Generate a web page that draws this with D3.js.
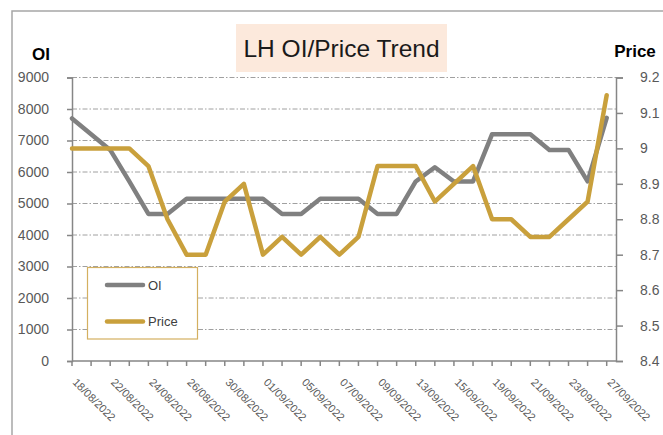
<!DOCTYPE html>
<html><head><meta charset="utf-8">
<script src="https://cdn.jsdelivr.net/npm/d3@7"></script>
<style>body{margin:0;background:#fff}svg{display:block;font-family:"Liberation Sans",Arial,sans-serif}</style>
</head><body><svg id="c" width="663" height="435"></svg>
<script>
const dates = ["18/08/2022","19/08/2022","22/08/2022","23/08/2022","24/08/2022","25/08/2022","26/08/2022","29/08/2022","30/08/2022","31/08/2022","01/09/2022","02/09/2022","05/09/2022","06/09/2022","07/09/2022","08/09/2022","09/09/2022","12/09/2022","13/09/2022","14/09/2022","15/09/2022","16/09/2022","19/09/2022","20/09/2022","21/09/2022","22/09/2022","23/09/2022","26/09/2022","27/09/2022"];
const oi = [7700,7200,6700,5700,4670,4670,5150,5150,5150,5150,5150,4670,4670,5150,5150,5150,4670,4670,5700,6150,5700,5700,7200,7200,7200,6700,6700,5700,7720];
const price = [9.0,9.0,9.0,9.0,8.95,8.8,8.7,8.7,8.85,8.9,8.7,8.75,8.7,8.75,8.7,8.75,8.95,8.95,8.95,8.85,8.9,8.95,8.8,8.8,8.75,8.75,8.8,8.85,9.15];
const oiTicks = [0,1000,2000,3000,4000,5000,6000,7000,8000,9000];
const priceTicks = [8.4,8.5,8.6,8.7,8.8,8.9,9.0,9.1,9.2];
const title = "LH OI/Price Trend";
const series = [{name:"OI", values:oi, color:"#808080", axis:"left"},{name:"Price", values:price, color:"#C9A03C", axis:"right"}];

const svg = d3.select("#c");
const L = 72, R = 616, T = 77.5, B = 361, lastX = 606.7;
const x = d3.scalePoint().domain(dates).range([L, lastX]);
const yL = d3.scaleLinear().domain([0,9000]).range([B, T]);
const yR = d3.scaleLinear().domain([8.4,9.2]).range([B, T]);

// outer border
svg.append("rect").attr("x",12).attr("y",11).attr("width",700).attr("height",480)
  .attr("fill","none").attr("stroke","#a6a6a6").attr("stroke-width",1.5);

// gridlines
svg.append("g").selectAll("line").data(oiTicks.filter(d=>d>0)).join("line")
  .attr("x1",L).attr("x2",R).attr("y1",d=>yL(d)).attr("y2",d=>yL(d))
  .attr("stroke","#a0a0a0").attr("stroke-width",1).attr("stroke-dasharray","5,2,1.5,2");

// title
svg.append("rect").attr("x",236).attr("y",24).attr("width",211).attr("height",48).attr("fill","#FCE9DC");
svg.append("text").attr("x",341.5).attr("y",56.5).attr("text-anchor","middle")
  .attr("font-size",24.5).attr("fill","#1a1a1a").text(title);

// left axis
const gL = svg.append("g").attr("transform",`translate(${L},0)`)
  .call(d3.axisLeft(yL).tickValues(oiTicks).tickSize(5).tickPadding(18).tickFormat(d3.format("d")));
gL.selectAll("path,line").attr("stroke","#868686").attr("stroke-width",1.5);
gL.selectAll("text").attr("font-size",14).attr("fill","#595959").attr("font-family","Liberation Sans, Arial, sans-serif");

// right axis
const gR = svg.append("g").attr("transform",`translate(${R},0)`)
  .call(d3.axisRight(yR).tickValues(priceTicks).tickSize(7).tickPadding(17).tickFormat(d=>d3.format("")(+d.toFixed(1))));
gR.selectAll("path,line").attr("stroke","#868686").attr("stroke-width",1.5);
gR.selectAll("text").attr("font-size",14).attr("fill","#595959").attr("font-family","Liberation Sans, Arial, sans-serif");

// bottom axis
const gB = svg.append("g").attr("transform",`translate(0,${B})`);
gB.append("line").attr("x1",L).attr("x2",R).attr("stroke","#868686").attr("stroke-width",1.5);
gB.selectAll("line.t").data(dates).join("line").attr("class","t")
  .attr("x1",d=>x(d)).attr("x2",d=>x(d)).attr("y1",0).attr("y2",5).attr("stroke","#868686").attr("stroke-width",1.5);
svg.append("g").selectAll("text").data(dates.filter((d,i)=>i%2===0)).join("text")
  .attr("transform",d=>`translate(${x(d)},383) rotate(45)`)
  .attr("font-size",11).attr("fill","#595959").text(d=>d);

// axis titles
svg.append("text").attr("x",41).attr("y",60).attr("text-anchor","middle").attr("font-size",17).attr("font-weight","bold").attr("fill","#000").text("OI");
svg.append("text").attr("x",635).attr("y",57).attr("text-anchor","middle").attr("font-size",17).attr("font-weight","bold").attr("fill","#000").text("Price");

// lines
series.forEach(s=>{
  const ys = s.axis==="left"?yL:yR;
  svg.append("path").datum(s.values)
    .attr("d", d3.line().x((d,i)=>x(dates[i])).y(d=>ys(d)))
    .attr("fill","none").attr("stroke",s.color).attr("stroke-width",4.5).attr("stroke-linejoin","round").attr("stroke-linecap","round");
});

// legend
const lg = svg.append("g");
lg.append("rect").attr("x",87.5).attr("y",267.5).attr("width",110).attr("height",71.5)
  .attr("fill","#fff").attr("stroke","#D4B060").attr("stroke-width",1.2);
series.forEach((s,i)=>{
  const yy = 285 + i*36.5;
  lg.append("line").attr("x1",107).attr("x2",143).attr("y1",yy).attr("y2",yy)
    .attr("stroke",s.color).attr("stroke-width",4.5).attr("stroke-linecap","round");
  lg.append("text").attr("x",148).attr("y",yy+4.5).attr("font-size",13).attr("fill","#404040").text(s.name);
});
</script></body></html>
